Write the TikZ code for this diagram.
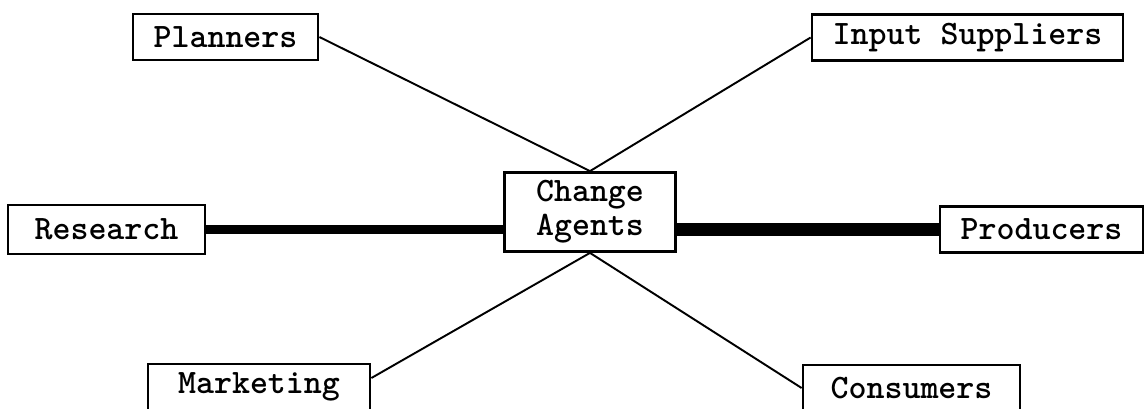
\documentclass[tikz,border=0pt]{standalone}
\usetikzlibrary{positioning, calc}

\begin{document}
\begin{tikzpicture}[
    x=0.02cm, y=-0.02cm,
    font=\ttfamily\bfseries\fontsize{19.5}{19.5}\selectfont,
    % Styles
    group/.style={draw, line width=1.6pt, rectangle, minimum height=0.92cm, inner sep=0pt},
    agent/.style={draw, line width=1.6pt, rectangle, minimum width=3.42cm, minimum height=1.58cm, align=center, inner sep=0pt},
    link/.style={line width=1.1pt},
    strong/.style={line width=4.6pt},
    stronger/.style={line width=7pt}
]
\useasboundingbox (0,0) rectangle (1146,409);

% 1. Centre
\node[agent] (agents) at (590,212) {Change\\Agents};

% 2. Upper groups
\node[group, minimum width=3.7cm] (planners) at (225.5,37) {Planners};
\node[group, minimum width=6.22cm] (suppliers) at (967.5,37.5) {Input Suppliers};

% 3. Side groups
\node[group, minimum width=3.94cm, minimum height=0.98cm] (research) at (106.5,229.5) {Research};
\node[group, minimum width=4.06cm] (producers) at (1041.5,229.5) {Producers};

% 4. Lower groups (cut by the page edge)
\begin{scope}
\clip (0,0) rectangle (1146,409);
\node[group, minimum width=4.44cm] (marketing) at (259,387) {Marketing};
\node[group, minimum width=4.34cm] (consumers) at (911.5,388) {Consumers};
\end{scope}

% 5. Links
\draw[link] (planners.east) -- (agents.north);
\draw[link] (suppliers.west) -- (agents.north);
\draw[link] ([yshift=0.18cm]marketing.east) -- (agents.south);
\draw[link] (consumers.west) -- (agents.south);
\draw[strong] (research.east) -- (research.east -| agents.west);
\draw[stronger] (producers.west) -- (producers.west -| agents.east);

\end{tikzpicture}
\end{document}
